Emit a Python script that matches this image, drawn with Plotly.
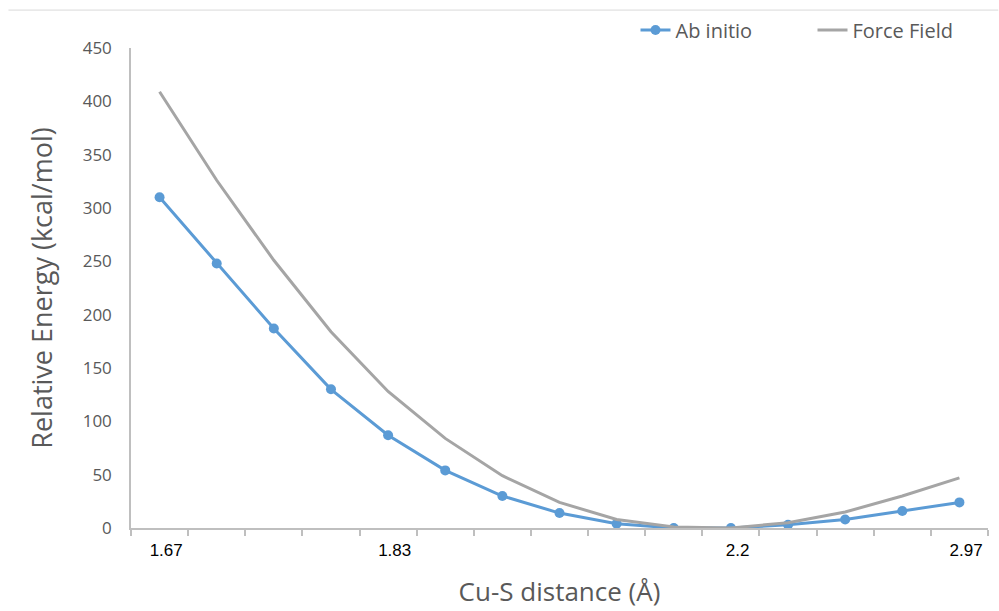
import plotly.graph_objects as go

# Cu-S scan: 15 geometries, only some distances labelled on the axis
distance_labels = ["1.67", "", "", "", "1.83", "", "", "", "", "", "2.2", "", "", "", "2.97"]
ab_initio = [310, 248, 187, 130, 87, 54, 30, 14, 4, 0, 0, 3, 8, 16, 24]
force_field = [409, 326, 251, 184, 128, 84, 49, 24, 8, 1, 0, 5, 15, 30, 47]

point_ids = [f"p{i}" for i in range(len(distance_labels))]
# labels sit slightly right of their category centre
tick_text = [("\u2002\u00a0" + s) if s else "" for s in distance_labels]

BLUE = "#5B9BD5"
GREY = "#A5A5A5"
TEXT = "#595959"
AXIS = "#BFBFBF"

fig = go.Figure()
fig.add_trace(go.Scatter(
    x=point_ids, y=ab_initio, name="Ab initio", mode="lines+markers",
    line=dict(color=BLUE, width=3), marker=dict(color=BLUE, size=10),
))
fig.add_trace(go.Scatter(
    x=point_ids, y=force_field, name="Force Field", mode="lines",
    line=dict(color=GREY, width=3),
))

fig.update_layout(
    width=999, height=611,
    margin=dict(l=131, r=10, t=48, b=83),
    paper_bgcolor="white", plot_bgcolor="white",
    font=dict(family="Open Sans, Liberation Sans, sans-serif", color=TEXT),
    legend=dict(
        orientation="h", x=0.588, xanchor="left", y=1.0375, yanchor="middle",
        font=dict(size=20, color=TEXT), entrywidth=132, itemwidth=30,
        bgcolor="rgba(0,0,0,0)",
    ),
    xaxis=dict(
        type="category", categoryorder="array", categoryarray=point_ids,
        range=[-0.5, len(point_ids) - 0.5], automargin=False,
        tickmode="array", tickvals=point_ids, ticktext=tick_text,
        tickson="boundaries",
        showline=True, linecolor=AXIS, linewidth=1.5,
        ticks="outside", ticklen=6, tickcolor=AXIS, tickwidth=1.5,
        ticklabelstandoff=6,
        showgrid=False, zeroline=False,
        tickfont=dict(family="Liberation Sans, Arial, sans-serif", size=17, color="black"),
        title=dict(text="Cu-S distance (Å)", font=dict(size=26, color=TEXT), standoff=24),
    ),
    yaxis=dict(
        range=[0, 450], tickmode="linear", tick0=0, dtick=50, automargin=False,
        showline=True, linecolor=AXIS, linewidth=1.5,
        showgrid=False, zeroline=False, ticks="",
        ticklabelstandoff=14,
        tickfont=dict(size=17, color=TEXT),
        title=dict(text="Relative Energy (kcal/mol)", font=dict(size=27, color=TEXT), standoff=22),
    ),
    shapes=[dict(
        type="line", xref="paper", yref="paper",
        x0=-0.143, x1=1.012, y0=1.079, y1=1.079,
        line=dict(color="#D9D9D9", width=1),
    )],
)

fig.write_html("out.html")
